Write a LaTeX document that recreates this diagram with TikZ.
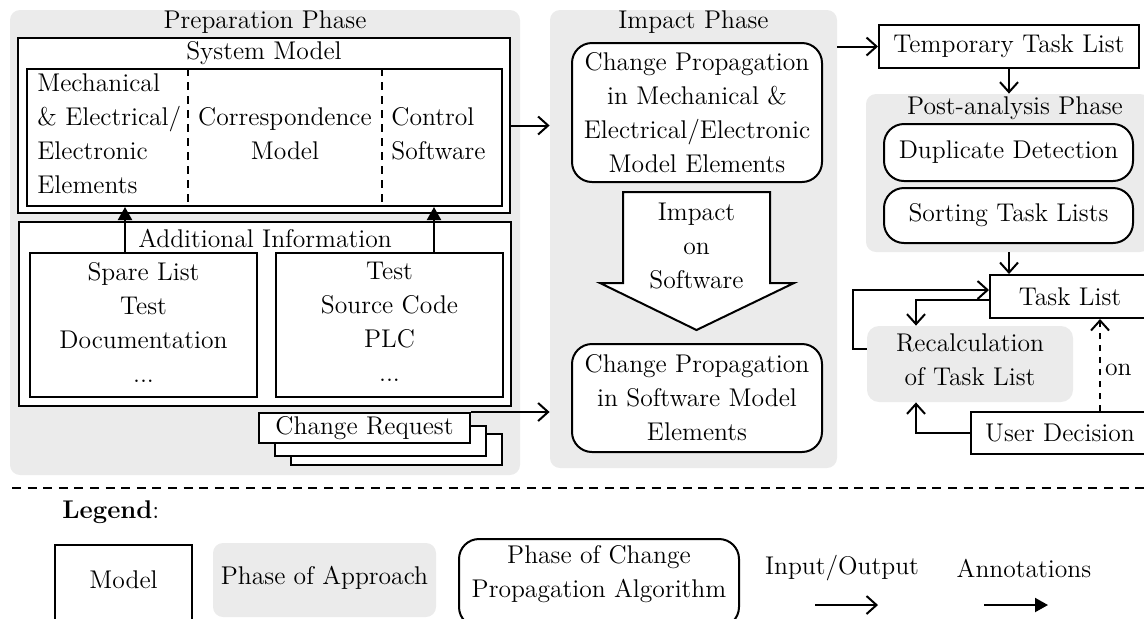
\documentclass[tikz,border=0pt]{standalone}
\usetikzlibrary{arrows.meta,positioning,calc}
\definecolor{phasegray}{RGB}{235,235,235}
\begin{document}
\begin{tikzpicture}[x=0.5pt,y=-0.5pt,
  every node/.style={font=\fontsize{12.8}{17}\selectfont},
  panel/.style={fill=phasegray,rounded corners=5pt,inner sep=0pt},
  modelbox/.style={draw,line width=1pt,fill=white,inner sep=0pt,align=center},
  algbox/.style={draw,line width=1pt,fill=white,rounded corners=10pt,inner sep=0pt,align=center},
  txt/.style={inner sep=0pt,align=center},
  io/.style={line width=1pt,-{Straight Barb[length=5pt,width=9pt,line width=1pt]}},
  annot/.style={line width=1pt,-{Triangle[length=6.5pt,width=7pt]}}
]
\useasboundingbox (0,0) rectangle (1144,618);
\clip (0,0) rectangle (1144,618);

% ---------- Preparation Phase ----------
\node[panel,minimum width=255pt,minimum height=232.5pt] (prep) at (265,242.5) {};
\node[txt] (preptitle) at (265,22) {Preparation Phase};

\node[modelbox,minimum width=246pt,minimum height=87.5pt] (sysouter) at (264,125.5) {};
\node[txt] (systitle) at (264,53) {System Model};
\node[modelbox,minimum width=237.5pt,minimum height=68.5pt] (sysinner) at (264.5,137.5) {};
\coordinate (d1) at (188,100);
\coordinate (d2) at (382,100);
\draw[line width=1pt,dash pattern=on 4pt off 3pt] (d1 |- sysinner.north) -- (d1 |- sysinner.south);
\draw[line width=1pt,dash pattern=on 4pt off 3pt] (d2 |- sysinner.north) -- (d2 |- sysinner.south);
\node[txt,align=left,anchor=west] (mech) at (37,134) {Mechanical\\ \& Electrical/\\ Electronic\\ Elements};
\node[txt] (corr) at (285,134) {Correspondence\\ Model};
\node[txt,align=left,anchor=west] (ctrl) at (391,134) {Control\\ Software};

\node[modelbox,minimum width=246pt,minimum height=92pt] (addinfo) at (265,314) {};
\node[txt] (addtitle) at (265,238) {Additional Information};
\node[modelbox,minimum width=113.5pt,minimum height=72pt] (leftsub) at (143.5,325) {};
\node[txt] at (143.5,322) {Spare List\\ Test\\ Documentation\\ ...};
\node[modelbox,minimum width=113.5pt,minimum height=72pt] (rightsub) at (389.5,325) {};
\node[txt] at (389.5,322) {Test\\ Source Code\\ PLC\\ ...};

\coordinate (a1) at (125,230);
\coordinate (a2) at (434,230);
\draw[annot] (a1 |- leftsub.north) -- (a1 |- sysinner.south);
\draw[annot] (a2 |- rightsub.north) -- (a2 |- sysinner.south);

% change request stack
\node[modelbox,minimum width=105.5pt,minimum height=15.5pt] (cr3) at (396.5,449.5) {};
\node[modelbox,minimum width=105.5pt,minimum height=15pt] (cr2) at (380.5,440.5) {};
\node[modelbox,minimum width=105.5pt,minimum height=15pt] (cr) at (364.5,428) {Change Request};

% ---------- Impact Phase ----------
\node[panel,minimum width=143.5pt,minimum height=229pt] (impactpanel) at (693.5,239) {};
\node[txt] (imptitle) at (693.5,22) {Impact Phase};
\node[algbox,minimum width=125pt,minimum height=69.5pt] (cpmech) at (697,112.5)
  {Change Propagation\\ in Mechanical \&\\ Electrical/Electronic\\ Model Elements};
\draw[line width=1pt,fill=white] (623,192) -- (770,192) -- (770,283) -- (794,283)
  -- (696.5,330) -- (600,283) -- (623,283) -- cycle;
\node[txt] (impact) at (696.5,246) {Impact\\ on\\ Software};
\node[algbox,minimum width=125pt,minimum height=54pt] (cpsoft) at (697,398)
  {Change Propagation\\ in Software Model\\ Elements};

\draw[io] (sysouter.east) -- (impactpanel.west |- sysouter.east);
\draw[io] (cr.north east) -- (impactpanel.west |- cr.north east);

% ---------- right part ----------
\node[modelbox,minimum width=130pt,minimum height=21.5pt] (ttl) at (1009,46.5) {Temporary Task List};
\draw[io] (impactpanel.east |- ttl.west) -- (ttl.west);

\node[panel,minimum width=142pt,minimum height=79pt] (post) at (1008,173) {};
\node[txt] (posttitle) at (1015,108) {Post-analysis Phase};
\node[algbox,minimum width=124.5pt,minimum height=28.5pt] (dup) at (1008.5,152.5) {Duplicate Detection};
\node[algbox,minimum width=124.5pt,minimum height=27.5pt] (sort) at (1008.5,215.5) {Sorting Task Lists};
\draw[io] (ttl.south) -- (ttl.south |- post.north);

\node[modelbox,minimum width=80pt,minimum height=21.5pt] (tasklist) at (1070,296.5) {Task List};
\draw[io] (ttl.south |- post.south) -- (ttl.south |- tasklist.north);

\node[panel,rounded corners=6pt,minimum width=103pt,minimum height=38pt,align=center] (recalc) at (970,364) {};
\node[txt] at (970,360) {Recalculation\\ of Task List};

\node[modelbox,minimum width=89pt,minimum height=21pt] (ud) at (1060,433) {User Decision};

\draw[io] ([yshift=7.5pt]recalc.west) -- ++(-14,0) |- ([yshift=3.25pt]tasklist.west);
\draw[io] ([yshift=-1.75pt]tasklist.west) -| ([xshift=-27pt]recalc.north);
\draw[io] (ud.west) -| ([xshift=-27pt]recalc.south);
\coordinate (dv) at (1100,370);
\draw[io,dashed] (dv |- ud.north) -- (dv |- tasklist.south)
  node[pos=0.45,right,inner sep=2pt] {on};

% ---------- separator ----------
\coordinate (s1) at (12,488);
\coordinate (s2) at (1144,488);
\draw[line width=1pt,dash pattern=on 4.5pt off 3.3pt] (s1) -- (s2);

% ---------- legend ----------
\node[txt,anchor=west] (legend) at (62,512) {\textbf{Legend}:};
\node[modelbox,minimum width=68.5pt,minimum height=40pt] (lmodel) at (123.5,585) {};
\node[txt] at (123.5,580) {Model};
\node[panel,minimum width=111.5pt,minimum height=37pt] (lphase) at (324.5,580) {};
\node[txt] at (324.5,578) {Phase of Approach};
\node[algbox,minimum width=140pt,minimum height=44pt] (lalg) at (599,583) {};
\node[txt] at (599,574.5) {Phase of Change\\ Propagation Algorithm};
\node[txt] (lio) at (842,568) {Input/Output};
\node[txt] (lann) at (1024,568) {Annotations};
\coordinate (io1) at (815,605);
\coordinate (io2) at (878,605);
\coordinate (an1) at (984,605);
\coordinate (an2) at (1048,605);
\draw[io] (io1) -- (io2);
\draw[annot] (an1) -- (an2);
\end{tikzpicture}
\end{document}
